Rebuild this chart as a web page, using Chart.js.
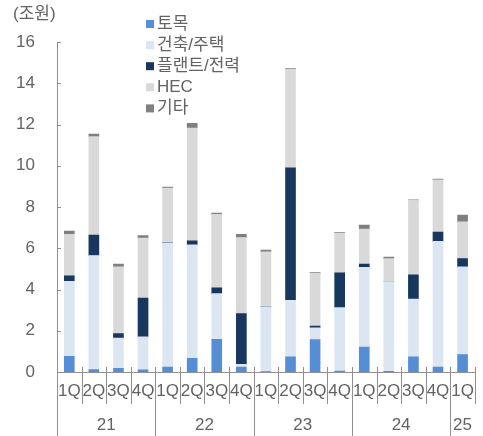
<!DOCTYPE html>
<html>
<head>
<meta charset="utf-8">
<script src="https://cdn.jsdelivr.net/npm/chart.js@4/dist/chart.umd.min.js"></script>
<style>
  html, body { margin: 0; padding: 0; background: #ffffff; }
  #wrap { width: 483px; height: 436px; position: relative; }
</style>
</head>
<body>
<div id="wrap"><canvas id="c" width="483" height="436"></canvas></div>
<script>
// Quarterly new orders by segment (조원)
const quarters = ['1Q','2Q','3Q','4Q','1Q','2Q','3Q','4Q','1Q','2Q','3Q','4Q','1Q','2Q','3Q','4Q','1Q'];
const years = ['21', '22', '23', '24', '25'];
const quartersPerYear = [4, 4, 4, 4, 1];

const civil    = [0.76, 0.12, 0.18, 0.10, 0.24, 0.66, 1.59, 0.24, 0.02, 0.73, 1.57, 0.05, 1.21, 0.03, 0.73, 0.24, 0.84];
const building = [3.64, 5.53, 1.47, 1.60, 6.02, 5.51, 2.21, 0.13, 3.14, 2.75, 0.57, 3.07, 3.86, 4.36, 2.81, 6.09, 4.26];
const plant    = [0.26, 0.99, 0.21, 1.89, 0.02, 0.19, 0.28, 2.46, 0.00, 6.42, 0.09, 1.69, 0.16, 0.00, 1.17, 0.45, 0.40];
const hec      = [2.02, 4.77, 3.24, 2.90, 2.64, 5.47, 3.56, 3.69, 2.67, 4.78, 2.55, 1.91, 1.70, 1.11, 3.61, 2.54, 1.78];
const other    = [0.15, 0.13, 0.13, 0.13, 0.04, 0.23, 0.06, 0.16, 0.08, 0.03, 0.04, 0.04, 0.19, 0.07, 0.03, 0.03, 0.33];

const seriesNames = ['토목', '건축/주택', '플랜트/전력', 'HEC', '기타'];
const seriesColors = ['#558ED5', '#DCE6F2', '#17375E', '#D9D9D9', '#7F7F7F'];
const seriesValues = [civil, building, plant, hec, other];

const yTicks = [0, 2, 4, 6, 8, 10, 12, 14, 16];

const FONT = "'Liberation Sans', 'Noto Sans CJK KR', Arial, sans-serif";
const TEXT = '#636363';
const AXIS = '#909090';

// Legend, unit label, inside y ticks and two-level category axis
const decorations = {
  id: 'decorations',
  afterDraw(chart) {
    const ctx = chart.ctx;
    const area = chart.chartArea;
    const x = chart.scales.x;
    const y = chart.scales.y;
    ctx.save();

    // unit label
    ctx.fillStyle = TEXT;
    ctx.font = '17px ' + FONT;
    ctx.textAlign = 'left';
    ctx.textBaseline = 'middle';
    ctx.fillText('(조원)', 13, 14);

    // legend
    chart.data.datasets.forEach((ds, i) => {
      const cy = 24 + i * 21.1;
      ctx.fillStyle = ds.backgroundColor;
      ctx.fillRect(146, cy - 4, 8, 8);
      ctx.fillStyle = TEXT;
      ctx.font = '17px ' + FONT;
      ctx.textAlign = 'left';
      ctx.textBaseline = 'middle';
      ctx.fillText(ds.label, 157, cy);
    });

    // short tick marks on the inside of the value axis
    ctx.strokeStyle = AXIS;
    ctx.lineWidth = 1;
    yTicks.forEach(v => {
      const py = Math.round(y.getPixelForValue(v)) + 0.5;
      ctx.beginPath();
      ctx.moveTo(area.left, py);
      ctx.lineTo(area.left + 4, py);
      ctx.stroke();
    });

    // category separators and year labels
    const n = quarters.length;
    const step = (area.right - area.left) / n;
    const boundary = k => Math.round(area.left + k * step) + 0.5;
    const yearStarts = new Set();
    let acc = 0;
    quartersPerYear.forEach(c => { yearStarts.add(acc); acc += c; });
    for (let k = 0; k <= n; k++) {
      const bx = boundary(k);
      const isYear = yearStarts.has(k);
      ctx.beginPath();
      ctx.moveTo(bx, area.bottom - (k === 0 ? 0 : 5));
      ctx.lineTo(bx, isYear ? 436 : 404);
      ctx.stroke();
    }
    ctx.fillStyle = TEXT;
    ctx.font = '17px ' + FONT;
    ctx.textAlign = 'center';
    ctx.textBaseline = 'middle';
    acc = 0;
    years.forEach((yr, i) => {
      const first = x.getPixelForValue(acc);
      const last = x.getPixelForValue(acc + quartersPerYear[i] - 1);
      ctx.fillText(yr, (first + last) / 2, 425);
      acc += quartersPerYear[i];
    });

    ctx.restore();
  }
};

new Chart(document.getElementById('c'), {
  type: 'bar',
  data: {
    labels: quarters,
    datasets: seriesNames.map((name, i) => ({
      label: name,
      data: seriesValues[i],
      backgroundColor: seriesColors[i],
      borderWidth: 0,
      barThickness: 10,
      stack: 'orders'
    }))
  },
  options: {
    responsive: false,
    devicePixelRatio: 1,
    animation: false,
    layout: { padding: { top: 42, right: 3, left: 0, bottom: 0 } },
    plugins: {
      legend: { display: false },
      tooltip: { enabled: false }
    },
    scales: {
      x: {
        stacked: true,
        offset: true,
        grid: { display: false, drawTicks: false },
        border: { display: true, color: AXIS, width: 1 },
        ticks: {
          color: TEXT,
          font: { family: FONT, size: 17 },
          padding: 9,
          maxRotation: 0,
          autoSkip: false
        },
        afterFit(scale) { scale.height = 64; }
      },
      y: {
        stacked: true,
        min: 0,
        max: 16,
        grid: { display: false, drawTicks: false },
        border: { display: true, color: AXIS, width: 1 },
        afterBuildTicks(scale) { scale.ticks = yTicks.map(v => ({ value: v })); },
        ticks: {
          color: TEXT,
          font: { family: FONT, size: 17 },
          padding: 22
        },
        afterFit(scale) { scale.width = 57; }
      }
    }
  },
  plugins: [decorations]
});
</script>
</body>
</html>
